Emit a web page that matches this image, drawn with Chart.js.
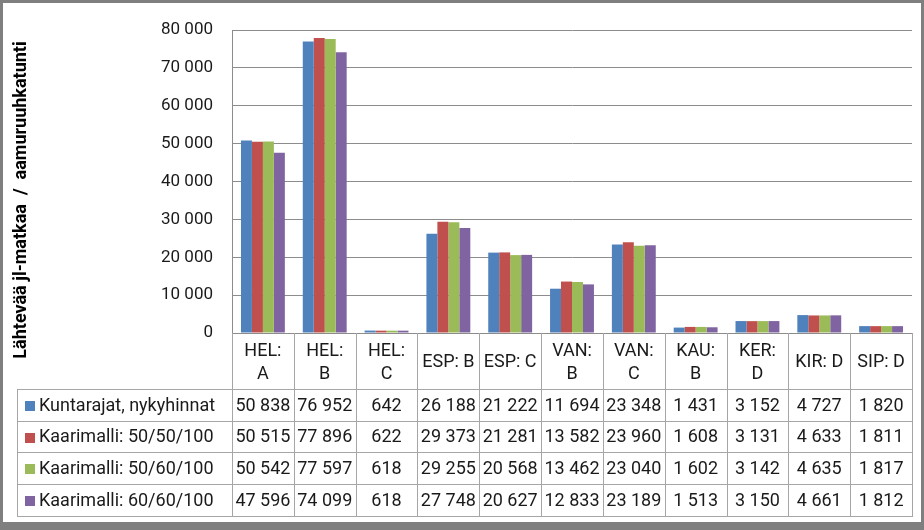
<!DOCTYPE html>
<html><head><meta charset="utf-8">
<script src="https://cdn.jsdelivr.net/npm/chart.js@4"></script>
<style>html,body{margin:0;padding:0;background:#fff;} canvas{display:block}</style>
</head><body>
<canvas id="c" width="924" height="530"></canvas>
<script>
const categories = [["HEL:","A"],["HEL:","B"],["HEL:","C"],["ESP: B"],["ESP: C"],["VAN:","B"],["VAN:","C"],["KAU:","B"],["KER:","D"],["KIR: D"],["SIP: D"]];
const seriesNames = ["Kuntarajat, nykyhinnat","Kaarimalli: 50/50/100","Kaarimalli: 50/60/100","Kaarimalli: 60/60/100"];
const kuntarajat = [50838,76952,642,26188,21222,11694,23348,1431,3152,4727,1820];
const kaari50_50 = [50515,77896,622,29373,21281,13582,23960,1608,3131,4633,1811];
const kaari50_60 = [50542,77597,618,29255,20568,13462,23040,1602,3142,4635,1817];
const kaari60_60 = [47596,74099,618,27748,20627,12833,23189,1513,3150,4661,1812];
const yTickValues = [0,10000,20000,30000,40000,50000,60000,70000,80000];
const yTitle = "Lähtevää jl-matkaa  /  aamuruuhkatunti";
const colors = ["#4F81BD","#C0504D","#9BBB59","#8064A2"];
const seriesValues = [kuntarajat,kaari50_50,kaari50_60,kaari60_60];

const FONT = "Roboto, 'Noto Sans', sans-serif";
const fmt = n => String(n).replace(/\B(?=(\d{3})+(?!\d))/g, ' ');

const tablePlugin = {
  id: 'tablePlugin',
  beforeDraw(chart) {
    const ctx = chart.ctx;
    ctx.save();
    ctx.fillStyle = '#7f7f7f';
    ctx.fillRect(0,0,924,530);
    ctx.fillStyle = '#ffffff';
    ctx.fillRect(3,3,918,519);
    ctx.restore();
  },
  afterDraw(chart) {
    const ctx = chart.ctx;
    const ca = chart.chartArea;
    const xs = chart.scales.x;
    const n = categories.length;
    const w = (ca.right - ca.left) / n;
    const rowTops = [389, 421, 452, 484, 516];
    const tableLeft = 17;
    ctx.save();
    ctx.strokeStyle = '#a6a6a6';
    ctx.lineWidth = 1;
    ctx.beginPath();
    for (let i = 0; i <= n; i++) {
      const x = Math.round(ca.left + i * w) + 0.5;
      ctx.moveTo(x, ca.bottom);
      ctx.lineTo(x, rowTops[4]);
    }
    ctx.moveTo(tableLeft + 0.5, rowTops[0]);
    ctx.lineTo(tableLeft + 0.5, rowTops[4]);
    rowTops.forEach(y => { ctx.moveTo(tableLeft, y + 0.5); ctx.lineTo(Math.round(ca.right) + 1, y + 0.5); });
    ctx.stroke();

    ctx.fillStyle = '#1a1a1a';
    ctx.font = '18px ' + FONT;
    ctx.textAlign = 'center';
    ctx.textBaseline = 'middle';
    categories.forEach((lab, i) => {
      const cx = xs.getPixelForValue(i);
      const mid = (ca.bottom + rowTops[0]) / 2 + 1;
      if (lab.length === 1) ctx.fillText(lab[0], cx, mid);
      else { ctx.fillText(lab[0], cx, mid - 11); ctx.fillText(lab[1], cx, mid + 12); }
    });
    seriesValues.forEach((vals, r) => {
      const cy = (rowTops[r] + rowTops[r + 1]) / 2 + 1;
      vals.forEach((v, i) => {
        ctx.fillText(fmt(v), xs.getPixelForValue(i), cy);
      });
      ctx.fillStyle = colors[r];
      ctx.fillRect(25, Math.round(cy - 5), 10, 10);
      ctx.fillStyle = '#1a1a1a';
      ctx.textAlign = 'left';
      ctx.fillText(seriesNames[r], 39, cy);
      ctx.textAlign = 'center';
    });

    ctx.translate(21, 200);
    ctx.rotate(-Math.PI / 2);
    ctx.font = 'bold 18px ' + FONT;
    ctx.fillStyle = '#000';
    ctx.fillText(yTitle, 0, 0);
    ctx.restore();
  }
};

new Chart(document.getElementById('c'), {
  type: 'bar',
  data: {
    labels: categories.map(c => c.join(' ')),
    datasets: seriesNames.map((name, k) => ({
      label: name,
      data: seriesValues[k],
      backgroundColor: colors[k],
      borderWidth: 0,
      barPercentage: 1,
      categoryPercentage: 0.71
    }))
  },
  options: {
    responsive: false,
    animation: false,
    layout: { padding: { left: 0, top: 30, right: 12, bottom: 197 } },
    plugins: { legend: { display: false }, tooltip: { enabled: false } },
    scales: {
      x: { display: false },
      y: {
        min: 0, max: 80000,
        afterFit: s => { s.width = 232; },
        afterBuildTicks: s => { s.ticks = yTickValues.map(v => ({ value: v })); },
        grid: { color: '#8c8c8c', drawTicks: false },
        border: { display: true, color: '#8c8c8c' },
        ticks: {
          padding: 19,
          color: '#1a1a1a',
          font: { family: FONT, size: 17 },
          callback: v => fmt(v)
        }
      }
    }
  },
  plugins: [tablePlugin]
});
</script>
</body></html>
